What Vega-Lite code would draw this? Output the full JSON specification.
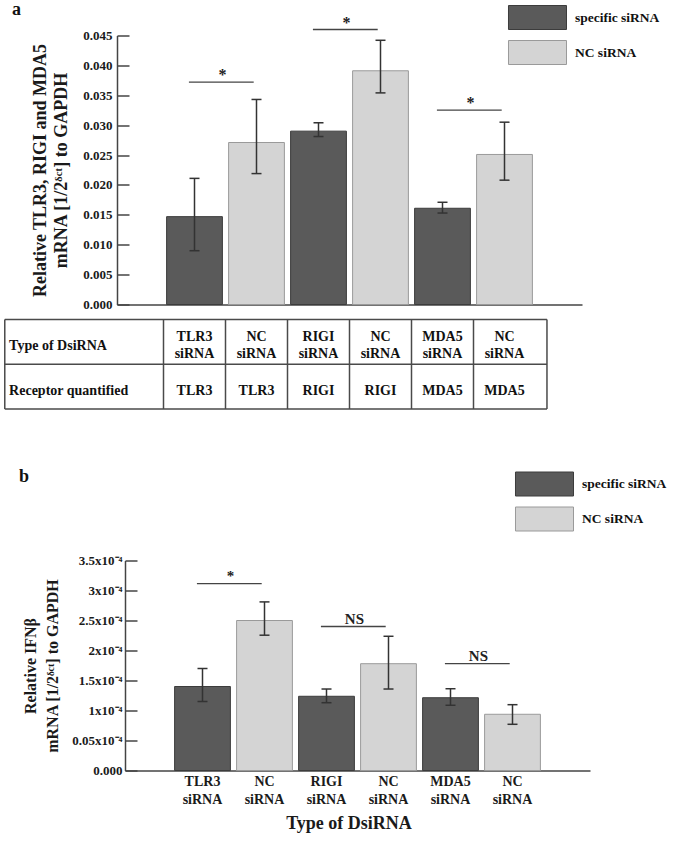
{
  "$schema": "https://vega.github.io/schema/vega-lite/v6.json",
  "autosize": {"type": "none"},
  "padding": {"left": 117, "top": 35.5, "right": 558, "bottom": 806.5},
  "config": {
    "font": "Liberation Serif",
    "view": {"stroke": null},
    "axis": {
      "labelFont": "Liberation Serif", "titleFont": "Liberation Serif",
      "labelFontWeight": "bold", "titleFontWeight": "bold",
      "labelColor": "#1a1a1a", "titleColor": "#1a1a1a",
      "domainColor": "#444444", "tickColor": "#444444",
      "domainWidth": 1.5, "tickWidth": 1.5, "grid": false, "labelOverlap": false
    },
    "legend": {
      "labelFont": "Liberation Serif", "labelFontWeight": "bold", "labelFontSize": 13.5, "labelColor": "#111111",
      "symbolType": "M-2.417,-1H2.417V1H-2.417Z", "symbolSize": 576,
      "symbolStrokeColor": "#555555", "symbolStrokeWidth": 1, "symbolOpacity": 1,
      "labelOffset": 25, "rowPadding": 6, "padding": 0
    },
    "title": {"font": "Liberation Serif", "fontWeight": "bold", "color": "#111111"},
    "text": {"font": "Liberation Serif"}
  },
  "datasets": {
    "barsA": [
      {"id": "TLR3", "series": "specific siRNA", "value": 0.0147, "lo": 0.0090, "hi": 0.0211},
      {"id": "NC1", "series": "NC siRNA", "value": 0.0271, "lo": 0.0219, "hi": 0.0343},
      {"id": "RIGI", "series": "specific siRNA", "value": 0.0290, "lo": 0.0281, "hi": 0.0304},
      {"id": "NC2", "series": "NC siRNA", "value": 0.0391, "lo": 0.0354, "hi": 0.0442},
      {"id": "MDA5", "series": "specific siRNA", "value": 0.0161, "lo": 0.0153, "hi": 0.0171},
      {"id": "NC3", "series": "NC siRNA", "value": 0.0251, "lo": 0.0208, "hi": 0.0305}
    ],
    "sigA": [
      {"from": "TLR3", "to": "NC1", "y": 0.0372, "label": "*"},
      {"from": "RIGI", "to": "NC2", "y": 0.0460, "label": "*"},
      {"from": "MDA5", "to": "NC3", "y": 0.0325, "label": "*"}
    ],
    "barsB": [
      {"id": "TLR3", "series": "specific siRNA", "value": 0.0001400, "lo": 0.0001150, "hi": 0.0001700},
      {"id": "NC1", "series": "NC siRNA", "value": 0.0002500, "lo": 0.0002255, "hi": 0.0002810},
      {"id": "RIGI", "series": "specific siRNA", "value": 0.0001237, "lo": 0.0001130, "hi": 0.0001358},
      {"id": "NC2", "series": "NC siRNA", "value": 0.0001780, "lo": 0.0001358, "hi": 0.0002237},
      {"id": "MDA5", "series": "specific siRNA", "value": 0.0001213, "lo": 0.0001087, "hi": 0.0001363},
      {"id": "NC3", "series": "NC siRNA", "value": 0.0000937, "lo": 0.0000770, "hi": 0.0001097}
    ],
    "sigB": [
      {"from": "TLR3", "to": "NC1", "y": 0.0003113, "label": "*"},
      {"from": "RIGI", "to": "NC2", "y": 0.0002400, "label": "NS"},
      {"from": "MDA5", "to": "NC3", "y": 0.0001780, "label": "NS"}
    ],
    "hlines": [{"y": 0.5}, {"y": 1.5}, {"y": 2.5}],
    "vlines": [{"x": -2.06}, {"x": 0.5}, {"x": 1.5}, {"x": 2.5}, {"x": 3.5}, {"x": 4.5}, {"x": 5.5}, {"x": 6.685}],
    "rowlabels": [
      {"row": 1, "text": "Type of DsiRNA"},
      {"row": 2, "text": "Receptor quantified"}
    ],
    "cells": [
      {"row": 1, "col": 1, "text": "TLR3\nsiRNA"},
      {"row": 1, "col": 2, "text": "NC\nsiRNA"},
      {"row": 1, "col": 3, "text": "RIGI\nsiRNA"},
      {"row": 1, "col": 4, "text": "NC\nsiRNA"},
      {"row": 1, "col": 5, "text": "MDA5\nsiRNA"},
      {"row": 1, "col": 6, "text": "NC\nsiRNA"},
      {"row": 2, "col": 1, "text": "TLR3"},
      {"row": 2, "col": 2, "text": "TLR3"},
      {"row": 2, "col": 3, "text": "RIGI"},
      {"row": 2, "col": 4, "text": "RIGI"},
      {"row": 2, "col": 5, "text": "MDA5"},
      {"row": 2, "col": 6, "text": "MDA5"}
    ]
  },
  "spacing": 7,
  "resolve": {
    "scale": {"x": "independent", "y": "independent", "color": "independent", "stroke": "independent"},
    "legend": {"color": "independent"}
  },
  "vconcat": [
    {
      "width": 465,
      "height": 269,
      "title": {"text": "a", "anchor": "start", "frame": "group", "dx": -105, "offset": -27.5, "fontSize": 18, "baseline": "alphabetic"},
      "layer": [
        {
          "data": {"name": "barsA"},
          "mark": {"type": "bar", "strokeWidth": 1},
          "encoding": {
            "x": {"field": "id", "type": "nominal",
                  "scale": {"domain": ["TLR3", "NC1", "RIGI", "NC2", "MDA5", "NC3"], "paddingInner": 0.1, "paddingOuter": 0.8},
                  "axis": {"labels": false, "ticks": false, "title": null}},
            "y": {"field": "value", "type": "quantitative",
                  "scale": {"domain": [0, 0.045], "nice": false},
                  "axis": {"values": [0, 0.005, 0.01, 0.015, 0.02, 0.025, 0.03, 0.035, 0.04, 0.045], "format": ".3f",
                           "tickCount": 50, "labelOverlap": false, "labelBound": false, "labelFlush": false,
                           "tickSize": -12, "labelPadding": 17, "labelFontSize": 13,
                           "title": ["Relative TLR3, RIGI and MDA5", "mRNA [1/2ᵟᶜᵗ] to GAPDH"],
                           "titleFontSize": 18, "titleLineHeight": 21, "titlePadding": 12}},
            "color": {"field": "series", "type": "nominal",
                      "scale": {"domain": ["specific siRNA", "NC siRNA"], "range": ["#5a5a5a", "#d4d4d4"]},
                      "legend": {"title": null, "orient": "none", "legendX": 408, "legendY": -30.5, "direction": "vertical"}},
            "stroke": {"field": "series", "type": "nominal",
                       "scale": {"domain": ["specific siRNA", "NC siRNA"], "range": ["#3c3c3c", "#9a9a9a"]}, "legend": null}
          }
        },
        {
          "data": {"name": "barsA"},
          "mark": {"type": "rule", "color": "#333333", "strokeWidth": 1.5},
          "encoding": {
            "x": {"field": "id", "type": "nominal"},
            "y": {"field": "lo", "type": "quantitative"},
            "y2": {"field": "hi"}
          }
        },
        {
          "data": {"name": "barsA"},
          "mark": {"type": "tick", "color": "#333333", "size": 10, "thickness": 1.5, "opacity": 1},
          "encoding": {
            "x": {"field": "id", "type": "nominal"},
            "y": {"field": "lo", "type": "quantitative"}
          }
        },
        {
          "data": {"name": "barsA"},
          "mark": {"type": "tick", "color": "#333333", "size": 10, "thickness": 1.5, "opacity": 1},
          "encoding": {
            "x": {"field": "id", "type": "nominal"},
            "y": {"field": "hi", "type": "quantitative"}
          }
        },
        {
          "data": {"name": "sigA"},
          "mark": {"type": "rule", "color": "#444444", "strokeWidth": 1.3},
          "encoding": {
            "x": {"field": "from", "type": "nominal", "bandPosition": 0.4},
            "x2": {"field": "to", "bandPosition": 0.45},
            "y": {"field": "y", "type": "quantitative"}
          }
        },
        {
          "data": {"name": "sigA"},
          "mark": {"type": "text", "fontSize": 16, "fontWeight": "bold", "baseline": "alphabetic", "dy": -2, "color": "#222222"},
          "encoding": {
            "x": {"field": "from", "type": "nominal", "bandPosition": 1},
            "y": {"field": "y", "type": "quantitative"},
            "text": {"field": "label"}
          }
        }
      ]
    },
    {
      "width": 431,
      "height": 141,
      "layer": [
        {
          "data": {"name": "hlines"},
          "mark": {"type": "rule", "color": "#4a4a4a", "strokeWidth": 1.5},
          "encoding": {
            "x": {"datum": -2.06, "type": "quantitative", "scale": {"domain": [-0.25, 6.7016], "nice": false, "zero": false}, "axis": null},
            "x2": {"datum": 6.685},
            "y": {"field": "y", "type": "quantitative", "scale": {"domain": [0.5, 3.651], "nice": false, "zero": false, "reverse": true}, "axis": null}
          }
        },
        {
          "data": {"name": "vlines"},
          "mark": {"type": "rule", "color": "#4a4a4a", "strokeWidth": 1.5},
          "encoding": {
            "x": {"field": "x", "type": "quantitative"},
            "y": {"datum": 0.5, "type": "quantitative"},
            "y2": {"datum": 2.5}
          }
        },
        {
          "data": {"name": "rowlabels"},
          "mark": {"type": "text", "align": "left", "fontSize": 14, "fontWeight": "bold", "color": "#111111", "dy": 4},
          "encoding": {
            "x": {"datum": -1.99, "type": "quantitative"},
            "y": {"field": "row", "type": "quantitative"},
            "text": {"field": "text"}
          }
        },
        {
          "data": {"name": "cells"},
          "transform": [{"filter": "datum.row == 1"}],
          "mark": {"type": "text", "align": "center", "fontSize": 14, "fontWeight": "bold", "lineBreak": "\n", "lineHeight": 17, "color": "#111111", "dy": -5},
          "encoding": {
            "x": {"field": "col", "type": "quantitative"},
            "y": {"field": "row", "type": "quantitative"},
            "text": {"field": "text"}
          }
        },
        {
          "data": {"name": "cells"},
          "transform": [{"filter": "datum.row == 2"}],
          "mark": {"type": "text", "align": "center", "fontSize": 14, "fontWeight": "bold", "color": "#111111", "dy": 4},
          "encoding": {
            "x": {"field": "col", "type": "quantitative"},
            "y": {"field": "row", "type": "quantitative"},
            "text": {"field": "text"}
          }
        }
      ]
    },
    {
      "width": 473,
      "height": 210,
      "title": {"text": "b", "anchor": "start", "frame": "group", "dx": -98, "offset": -28, "fontSize": 18, "baseline": "alphabetic"},
      "layer": [
        {
          "data": {"name": "barsB"},
          "mark": {"type": "bar", "strokeWidth": 1},
          "encoding": {
            "x": {"field": "id", "type": "nominal",
                  "scale": {"domain": ["TLR3", "NC1", "RIGI", "NC2", "MDA5", "NC3"], "paddingInner": 0.1, "paddingOuter": 0.8, "range": [8, 473]},
                  "axis": {"ticks": false, "labelAngle": 0, "labelFontSize": 14, "labelLineHeight": 18, "labelPadding": 4,
                           "labelExpr": "indexof(datum.value, 'NC') == 0 ? ['NC', 'siRNA'] : [datum.value, 'siRNA']",
                           "title": "Type of DsiRNA", "titleFontSize": 18, "titleX": 231.5, "titlePadding": 8}},
            "y": {"field": "value", "type": "quantitative",
                  "scale": {"domain": [0, 0.00035], "nice": false},
                  "axis": {"values": [0, 0.00005, 0.0001, 0.00015, 0.0002, 0.00025, 0.0003, 0.00035],
                           "labelExpr": "datum.value == 0 ? '0.000' : datum.value < 0.00007 ? '0.05x10⁻⁴' : format(datum.value * 10000, '.2~f') + 'x10⁻⁴'",
                           "tickCount": 50, "labelOverlap": false, "labelBound": false, "labelFlush": false,
                           "offset": -8, "tickSize": -12, "labelPadding": 15, "labelFontSize": 13,
                           "title": ["Relative IFNβ", "mRNA [1/2ᵟᶜᵗ] to GAPDH"],
                           "titleFontSize": 16, "titleLineHeight": 22, "titlePadding": 11}},
            "color": {"field": "series", "type": "nominal",
                      "scale": {"domain": ["specific siRNA", "NC siRNA"], "range": ["#5a5a5a", "#d4d4d4"]},
                      "legend": {"title": null, "orient": "none", "legendX": 415, "legendY": -89, "direction": "vertical"}},
            "stroke": {"field": "series", "type": "nominal",
                       "scale": {"domain": ["specific siRNA", "NC siRNA"], "range": ["#3c3c3c", "#9a9a9a"]}, "legend": null}
          }
        },
        {
          "data": {"name": "barsB"},
          "mark": {"type": "rule", "color": "#333333", "strokeWidth": 1.5},
          "encoding": {
            "x": {"field": "id", "type": "nominal"},
            "y": {"field": "lo", "type": "quantitative"},
            "y2": {"field": "hi"}
          }
        },
        {
          "data": {"name": "barsB"},
          "mark": {"type": "tick", "color": "#333333", "size": 10, "thickness": 1.5, "opacity": 1},
          "encoding": {
            "x": {"field": "id", "type": "nominal"},
            "y": {"field": "lo", "type": "quantitative"}
          }
        },
        {
          "data": {"name": "barsB"},
          "mark": {"type": "tick", "color": "#333333", "size": 10, "thickness": 1.5, "opacity": 1},
          "encoding": {
            "x": {"field": "id", "type": "nominal"},
            "y": {"field": "hi", "type": "quantitative"}
          }
        },
        {
          "data": {"name": "sigB"},
          "mark": {"type": "rule", "color": "#444444", "strokeWidth": 1.3},
          "encoding": {
            "x": {"field": "from", "type": "nominal", "bandPosition": 0.4},
            "x2": {"field": "to", "bandPosition": 0.45},
            "y": {"field": "y", "type": "quantitative"}
          }
        },
        {
          "data": {"name": "sigB"},
          "mark": {"type": "text", "fontSize": 15, "fontWeight": "bold", "baseline": "alphabetic", "dy": -3, "color": "#222222"},
          "encoding": {
            "x": {"field": "from", "type": "nominal", "bandPosition": 1},
            "y": {"field": "y", "type": "quantitative"},
            "text": {"field": "label"}
          }
        }
      ]
    }
  ]
}
